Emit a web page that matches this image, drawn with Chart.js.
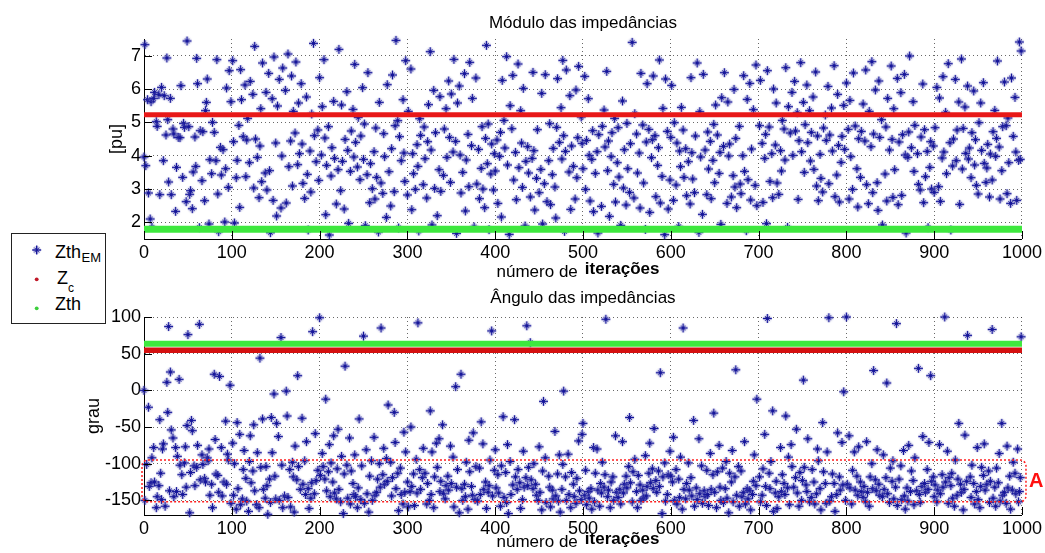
<!DOCTYPE html>
<html>
<head>
<meta charset="utf-8">
<script src="https://cdn.jsdelivr.net/npm/chart.js@4.4.1/dist/chart.umd.min.js"></script>
<style>
  html, body { margin: 0; padding: 0; background: #fff; }
  #wrap { position: relative; width: 1045px; height: 553px; overflow: hidden; }
  #wrap canvas { position: absolute; left: 0; top: 0; }
  #legend { position: absolute; left: 0; top: 0; }
</style>
</head>
<body>
<div id="wrap">
  <canvas id="modulo" width="1045" height="553"></canvas>
  <canvas id="angulo" width="1045" height="553"></canvas>
  <svg id="legend" width="130" height="330" xmlns="http://www.w3.org/2000/svg">
    <rect x="11.5" y="233.5" width="94" height="90" fill="#fff" stroke="#222" stroke-width="1"/>
    <circle cx="36.7" cy="250" r="4" fill="rgba(140,140,200,0.4)"/>
    <g stroke="#16169a">
      <line x1="32.2" y1="250" x2="41.2" y2="250" stroke-width="1.4"/>
      <line x1="36.7" y1="245.5" x2="36.7" y2="254.5" stroke-width="1.4"/>
      <line x1="34.4" y1="247.7" x2="39" y2="252.3" stroke-width="1"/>
      <line x1="34.4" y1="252.3" x2="39" y2="247.7" stroke-width="1"/>
    </g>
    <circle cx="36.7" cy="279.3" r="1.9" fill="#c01828"/>
    <circle cx="36.7" cy="308.3" r="1.9" fill="#3ccf3c"/>
    <g font-family="'Liberation Sans', Arial, sans-serif" fill="#000">
      <text x="55" y="258" font-size="18">Zth</text>
      <text x="81.5" y="262" font-size="13">EM</text>
      <text x="57" y="283.5" font-size="18">Z</text>
      <text x="68" y="292" font-size="12">c</text>
      <text x="55" y="310" font-size="18">Zth</text>
    </g>
  </svg>
</div>
<script>
// Iteration axis and tick labels
const iterTicks = [0, 100, 200, 300, 400, 500, 600, 700, 800, 900, 1000];
const moduloTicks = [2, 3, 4, 5, 6, 7];
const anguloTicks = [-150, -100, -50, 0, 50, 100];

// Reference impedance values (pu and degrees)
const zcModulo = 5.23;
const zthModulo = 1.79;
const zcAngulo = 54.8;
const zthAngulo = 63.5;

// Region "A" limits on the angle plot (degrees)
const regiaoA = [-152, -95];

// Estimated Thevenin impedance modulus per iteration [pu]; null = no mark inside the axes
const zthEmModulo = [
  3.96,7.33,3.70,null,5.68,2.88,null,2.10,5.62,1.85,null,5.72,5.90,null,5.02,4.88,null,5.83,2.83,null,
  6.05,null,3.85,5.80,null,4.62,6.93,5.08,3.21,null,5.72,2.83,null,4.80,4.65,null,2.33,3.65,null,4.55,
  null,4.54,6.10,null,3.35,4.97,4.85,null,2.62,7.44,null,4.87,2.84,2.95,null,2.41,3.51,null,4.56,3.68,
  6.92,6.16,null,1.84,4.75,null,3.25,4.72,null,2.65,5.35,5.60,6.30,null,1.95,3.88,null,3.46,5.00,null,
  4.70,null,3.85,6.88,2.85,1.72,null,4.25,3.42,null,4.18,null,2.01,3.61,6.03,null,3.05,6.55,null,5.62,
  null,6.85,4.42,1.98,null,3.34,3.86,null,4.91,2.45,6.58,5.68,null,4.57,null,6.12,3.37,4.47,5.12,null,
  3.79,6.23,null,null,5.84,3.03,7.28,4.50,null,3.95,null,2.74,4.29,5.41,3.22,6.78,null,null,3.48,5.90,
  2.97,null,6.47,3.55,1.69,null,5.71,2.66,6.96,null,4.38,2.19,5.49,null,6.29,null,2.43,3.99,6.63,null,
  null,5.96,2.58,null,7.05,3.67,null,4.44,6.39,3.09,5.33,null,4.68,6.81,null,3.73,5.58,4.06,null,6.16,
  4.35,3.17,null,2.72,null,5.76,3.44,1.77,null,4.14,2.91,5.25,null,7.37,4.60,null,3.82,null,4.77,3.26,
  6.34,null,4.02,5.47,null,6.88,4.53,2.23,3.71,null,4.87,1.62,null,3.39,4.24,null,5.63,3.92,null,2.55,
  null,3.58,7.19,null,2.95,5.52,3.83,null,2.40,4.49,null,5.92,4.16,1.97,null,3.53,4.74,null,5.39,3.96,
  6.74,4.40,null,3.66,5.15,null,3.28,4.59,null,6.04,3.89,4.95,1.90,null,3.43,6.49,null,2.59,3.76,null,
  3.01,null,4.12,2.70,4.83,3.35,null,1.71,5.60,null,3.18,null,2.87,4.66,3.97,null,2.15,6.13,null,3.52,
  null,2.49,4.21,6.42,null,2.92,4.90,7.46,null,5.05,1.83,4.57,null,3.85,null,5.68,4.08,3.23,6.85,null,
  2.82,5.33,null,null,6.60,2.38,4.06,3.46,null,2.99,null,4.33,3.68,1.74,5.11,4.61,null,null,3.13,4.86,
  3.91,null,2.73,4.42,5.53,null,7.12,4.17,1.92,null,5.96,3.02,4.69,null,2.20,null,3.58,5.77,2.93,null,
  null,3.41,4.80,null,5.41,3.95,null,6.24,4.55,3.20,5.85,null,4.11,6.89,null,4.43,1.67,5.58,null,6.09,
  4.02,2.88,null,3.50,null,6.46,2.34,3.87,null,4.64,3.07,6.80,null,4.30,5.72,null,1.86,null,6.33,3.15,
  null,4.19,2.71,null,3.62,4.87,3.00,null,2.44,4.52,7.31,3.76,4.95,1.78,null,3.45,4.35,null,2.97,4.06,
  3.54,null,4.47,2.57,null,3.98,4.70,2.16,6.26,null,5.06,4.23,null,6.97,3.72,null,1.64,5.50,null,4.81,
  6.41,3.27,null,4.10,2.68,null,6.75,3.64,null,5.35,4.38,3.05,6.02,null,1.89,3.83,null,4.27,3.48,null,
  2.76,null,3.92,6.50,4.15,2.37,null,3.32,4.78,null,2.89,null,3.59,5.87,1.95,null,3.16,6.43,null,2.62,
  null,3.85,4.96,2.53,null,3.43,4.22,null,3.06,2.13,4.85,6.31,null,4.40,null,5.44,3.90,6.86,4.60,1.73,
  4.13,6.57,null,null,3.51,5.80,2.39,4.29,null,3.68,null,2.70,5.97,3.34,4.54,6.68,null,null,5.16,4.37,
  3.61,null,6.38,2.99,4.46,null,5.71,4.01,2.64,null,3.89,4.75,2.32,null,3.47,null,4.12,1.68,4.63,null,
  null,2.48,4.88,null,5.37,4.26,null,6.53,3.55,4.44,2.18,null,3.97,4.69,null,3.14,5.12,2.61,null,3.79,
  4.84,3.36,null,1.91,null,5.64,3.03,4.18,null,2.52,4.97,3.61,null,2.90,4.36,null,7.40,null,2.73,5.26,
  null,4.65,3.48,null,4.08,2.43,6.47,null,4.92,3.18,null,1.79,4.41,6.16,null,4.79,2.30,null,3.94,4.48,
  6.39,null,4.60,2.77,null,3.71,4.24,6.87,2.58,null,3.38,5.42,null,1.63,6.30,null,4.73,2.40,null,3.27,
  4.55,6.11,null,2.66,4.99,null,3.12,4.38,null,1.87,4.14,3.67,5.45,null,4.77,3.35,null,4.21,2.80,null,
  3.82,null,2.55,6.34,4.09,3.30,null,2.89,4.59,null,6.78,null,1.70,5.32,3.96,null,2.24,6.44,null,4.17,
  null,2.83,4.71,3.60,null,4.43,2.71,null,3.86,4.94,3.19,5.52,null,4.62,null,3.47,4.10,1.94,5.74,null,
  4.28,6.49,null,null,2.57,5.61,3.99,4.35,null,2.76,null,3.40,5.99,3.06,4.52,2.44,null,null,4.88,3.15,
  2.86,null,4.00,6.40,3.53,null,1.75,5.69,3.28,null,6.17,2.67,4.20,null,5.38,null,3.11,6.72,2.50,null,
  null,4.90,6.26,null,4.37,2.60,null,3.92,4.64,1.96,6.55,null,4.86,3.23,null,4.06,2.74,6.00,null,4.32,
  5.58,3.18,null,2.84,null,4.15,3.54,5.06,null,4.80,3.87,6.64,null,1.85,5.47,null,4.68,null,5.90,4.01,
  null,6.23,4.74,null,5.29,2.69,4.45,null,6.79,4.12,null,5.60,3.50,4.93,null,6.12,4.39,null,5.35,3.84,
  4.70,null,5.76,3.59,null,6.51,3.09,4.59,2.65,null,4.04,3.32,null,2.91,4.83,null,5.22,4.46,null,6.08,
  3.16,4.62,null,5.43,4.14,null,6.70,2.77,null,3.42,5.84,4.31,2.61,null,3.80,4.58,null,5.51,4.19,null,
  6.18,null,4.79,2.70,5.66,3.97,null,2.99,6.48,null,4.89,null,3.61,2.46,4.51,null,3.35,4.73,null,5.55,
  null,4.44,6.57,3.13,null,2.56,5.33,null,4.27,6.82,2.89,4.65,null,5.97,null,3.19,2.36,6.24,4.55,null,
  5.08,1.92,null,null,3.45,4.86,2.64,5.72,null,4.17,null,6.69,4.49,2.75,5.41,3.58,null,null,6.32,2.53,
  4.41,null,5.89,2.81,4.63,null,6.44,4.02,1.68,null,3.95,4.71,6.99,null,4.24,null,5.62,3.53,4.91,null,
  null,4.06,3.14,null,2.97,4.56,null,6.15,2.59,4.78,3.37,null,4.13,1.84,null,3.65,4.42,3.00,null,4.29,
  2.90,4.84,null,6.05,null,3.07,5.73,2.63,null,3.93,6.37,4.11,null,5.30,3.46,null,6.76,null,4.39,1.77,
  null,3.69,4.50,null,6.29,3.85,4.77,null,5.61,2.54,null,6.90,3.60,4.82,null,5.46,4.07,null,6.09,3.90,
  4.23,null,3.34,4.69,null,5.94,3.72,4.48,3.11,null,2.85,4.99,null,5.58,4.16,null,6.19,3.77,null,3.20,
  3.63,4.34,null,2.76,4.05,null,3.27,4.72,null,5.36,3.98,4.52,6.84,null,4.26,2.70,null,3.55,4.87,null,
  6.21,null,4.90,2.86,5.13,3.79,null,2.57,6.33,null,4.58,null,5.75,4.11,2.66,null,3.86,7.41,3.89,7.14
];

// Estimated Thevenin impedance angle per iteration [degrees]; null = no mark inside the axes
const zthEmAngulo = [
  0,-150,null,-101,null,-23,-131,null,-126,-92,null,-78,-125,null,-160,-145,null,-130,-40,-113,
  -149,-80,-73,null,-158,null,11,-30,87,-137,25,-54,null,-65,-145,null,-78,-138,-90,null,
  15,-102,null,-115,-142,null,-99,-77,-132,-48,76,null,-167,-112,-41,-55,null,-103,-130,null,
  -105,-75,null,90,-122,null,-88,-101,null,-120,-125,null,-92,-96,-80,-143,null,-128,-160,null,
  22,-67,-114,null,-116,-139,19,null,-78,-144,null,-125,null,-42,-128,-87,-95,null,7,-154,
  null,-72,-143,-100,null,-162,-44,-134,null,-60,-156,null,-148,-108,-82,null,-120,-151,null,-165,
  -97,-62,-126,null,-110,-47,-137,null,-156,-85,null,-160,44,-105,null,-39,-135,null,-147,-104,
  -130,-169,null,-121,-153,-37,-85,null,-5,-117,-148,-45,null,-63,-150,null,72,-102,-160,null,
  -144,null,-1,-35,-146,null,-108,-159,null,-98,-118,-166,-76,null,-122,20,-104,null,-135,null,
  -38,-128,null,-96,-142,-70,null,-134,-161,null,-147,-126,80,null,-141,-59,-123,null,-109,null,
  99,-116,null,-86,-104,null,-121,-12,-137,null,-111,-74,-145,-99,null,-125,-62,-140,null,-148,
  -107,-53,-135,null,-152,-90,null,-168,-114,33,null,-102,-147,null,-65,-155,-110,null,-127,-142,
  -88,-145,null,-160,-133,-39,null,-149,-103,null,74,-154,null,-81,-141,null,-166,-117,null,-96,
  -150,null,-64,-143,null,-139,-121,null,-100,-132,85,null,-115,-79,-128,null,-93,-124,-20,null,
  null,-98,-144,-119,null,-30,-71,-134,null,-113,-164,null,-106,-142,null,-155,-57,-139,-84,null,
  -125,-159,null,-138,-50,-131,null,-114,-157,null,-94,-140,92,null,-108,-135,null,-119,-79,null,
  -113,null,-155,-127,null,-150,-28,-142,-84,null,-160,-118,null,-72,-105,null,-66,-138,-124,null,
  -47,-141,null,-148,-130,null,-117,-136,null,-76,-127,null,-91,-159,null,5,-132,-108,null,-167,
  null,22,-134,-150,null,-128,-145,-98,null,-162,-68,-111,null,-131,-143,-58,null,-149,-104,null,
  -151,null,-106,-142,-43,null,-73,-135,null,-125,-161,null,-139,-130,-95,null,81,-144,null,-109,
  -81,-133,null,-115,-140,null,-158,-103,null,-36,-146,null,-112,-153,-74,-168,null,-97,-142,null,
  -129,null,-40,-118,null,-135,-108,null,-126,-161,null,-149,-83,-132,null,-119,88,-130,-105,null,
  65,-122,null,-134,-100,null,-128,-143,null,-150,-77,-139,null,-163,-110,-15,null,-92,-153,null,
  null,-117,-132,-159,null,-136,-148,null,-56,-144,null,-114,-151,-88,-166,null,-135,-101,-1,null,
  -118,-150,null,-87,-142,null,-160,-112,null,-128,-145,null,-154,-120,null,-69,-137,null,-149,-60,
  -45,null,-143,-109,-156,null,-138,-147,null,-134,-162,null,-78,-152,-113,null,-80,-136,null,-158,
  -127,-140,-98,null,-132,-115,97,null,-145,-136,null,-160,-125,null,-118,-150,null,-62,-139,null,
  -146,null,-135,-155,null,-70,-140,-128,null,-117,-133,null,-104,-37,-126,null,-152,-111,null,-94,
  null,-138,-160,-116,null,-129,-150,null,-136,-147,null,-89,-144,-131,null,-113,-72,-126,null,-107,
  -134,-52,null,-123,-139,null,-110,-131,24,null,-168,-118,null,-99,-151,null,-142,-115,null,-83,
  -117,null,-125,-64,-150,null,-108,-155,null,-121,-146,-91,null,-162,85,-135,null,-148,-127,null,
  -99,-136,null,-119,-144,null,-41,-158,null,-133,-149,null,-66,-141,null,-103,-154,null,-137,-145,
  null,-109,-142,-157,null,-86,-135,null,-115,-31,-139,null,-160,-111,null,-75,-132,-150,null,-106,
  -153,null,-134,-97,-147,null,-167,-113,null,-125,-82,-152,null,-118,28,-143,null,-104,-158,null,
  -110,-145,null,-139,-70,-155,null,-134,-148,null,-137,-163,null,-142,-124,-88,null,-130,-12,null,
  null,-118,-152,null,-143,-107,null,-60,-131,-157,98,null,-113,-134,-97,null,-28,-165,null,-140,
  -124,-161,null,-145,null,-78,-138,-115,null,-127,-142,-35,null,-133,-91,-156,null,-74,-104,null,
  -132,null,-119,-53,-140,null,-158,-112,null,-150,-123,14,-105,null,-129,-138,-66,null,-152,null,
  -146,-108,null,-125,-155,null,-141,-80,-96,null,-134,-163,null,-44,-111,null,-127,-154,-84,null,
  99,-151,null,-145,-114,null,-127,-165,null,-142,-58,null,-118,-136,null,-71,-129,-2,null,-150,
  100,-128,null,-62,-133,null,-155,-109,null,-84,-136,null,-117,-143,-77,null,-125,-138,null,-146,
  -131,null,-152,-70,-139,null,-158,-118,null,-100,-134,27,null,-122,-137,-81,null,-128,-143,null,
  null,-145,-88,-135,null,-119,10,-141,null,-153,-106,null,-124,-96,-148,null,-132,91,-157,null,
  -121,null,-103,-149,null,-82,-144,-162,null,-133,-151,-75,null,-138,-110,null,-123,-156,-92,null,
  -137,null,30,-142,-153,null,-131,-63,null,-127,-139,null,-108,-135,-71,null,20,-124,null,-118,
  -145,-129,null,-152,-136,null,-74,-141,null,-115,-132,null,100,-125,null,-83,-154,-119,null,-130,
  -113,-147,null,-158,-95,null,-143,-121,-45,null,-128,-139,null,-163,-135,-61,null,-124,75,null,
  null,-118,-146,-102,null,-127,-155,null,-138,-78,-149,null,-160,-131,-105,null,-116,-73,-136,null,
  -128,null,-110,-153,-124,null,83,-147,null,-132,-158,-106,null,-126,-86,-151,null,-45,-143,null,
  -139,null,-154,-76,-133,null,-117,-162,null,-136,-98,null,-113,-141,null,-80,-152,-138,-119,73
];

const FONT = '"Liberation Sans", Arial, Helvetica, sans-serif';

// '*' marker: long upright arms, shorter diagonals, soft halo
function starMarker() {
  const c = document.createElement('canvas');
  c.width = 13; c.height = 13;
  const g = c.getContext('2d');
  const grad = g.createRadialGradient(6.5, 6.5, 0, 6.5, 6.5, 5.5);
  grad.addColorStop(0, 'rgba(130,130,195,0.55)');
  grad.addColorStop(1, 'rgba(170,170,215,0)');
  g.fillStyle = grad;
  g.fillRect(0, 0, 13, 13);
  g.strokeStyle = '#16169a';
  g.lineWidth = 1.4;
  g.beginPath();
  g.moveTo(2, 6.5); g.lineTo(11, 6.5);
  g.moveTo(6.5, 2); g.lineTo(6.5, 11);
  g.stroke();
  g.lineWidth = 1;
  g.beginPath();
  g.moveTo(4.2, 4.2); g.lineTo(8.8, 8.8);
  g.moveTo(4.2, 8.8); g.lineTo(8.8, 4.2);
  g.stroke();
  return c;
}
const STAR = starMarker();

// Titles, axis labels, inward tick marks and the highlighted region
const axisText = {
  id: 'axisText',
  afterDraw(chart, args, o) {
    const { ctx, chartArea: a, scales } = chart;
    const cx = (a.left + a.right) / 2;
    ctx.save();
    // inward tick marks
    ctx.strokeStyle = '#000';
    ctx.lineWidth = 1;
    ctx.beginPath();
    scales.x.ticks.forEach(t => {
      const px = Math.round(scales.x.getPixelForValue(t.value)) + 0.5;
      ctx.moveTo(px, a.bottom); ctx.lineTo(px, a.bottom - 8);
    });
    scales.y.ticks.forEach(t => {
      const py = Math.round(scales.y.getPixelForValue(t.value)) + 0.5;
      ctx.moveTo(a.left, py); ctx.lineTo(a.left + 8, py);
    });
    ctx.stroke();

    ctx.fillStyle = '#000';
    // title
    ctx.font = '17px ' + FONT;
    ctx.textAlign = 'center';
    ctx.textBaseline = 'alphabetic';
    ctx.fillText(o.title, cx, a.top - o.titleGap);
    // x label: plain words then the bold, slightly raised word
    ctx.textAlign = 'left';
    ctx.font = '17px ' + FONT;
    const w0 = ctx.measureText(o.xLabel[0]).width;
    ctx.font = 'bold 17px ' + FONT;
    const w1 = ctx.measureText(o.xLabel[1]).width;
    const gap = 7;
    const x0 = cx - 5 - (w0 + gap + w1) / 2;
    ctx.font = '17px ' + FONT;
    ctx.fillText(o.xLabel[0], x0, a.bottom + o.xLabelGap);
    ctx.font = 'bold 17px ' + FONT;
    ctx.fillText(o.xLabel[1], x0 + w0 + gap, a.bottom + o.xLabelGap - 3);
    // y label
    ctx.save();
    ctx.translate(o.yLabelX, (a.top + a.bottom) / 2);
    ctx.rotate(-Math.PI / 2);
    ctx.font = '18px ' + FONT;
    ctx.textAlign = 'center';
    ctx.textBaseline = 'middle';
    ctx.fillText(o.yLabel, 0, 0);
    ctx.restore();

    // highlighted region
    if (o.region) {
      const y0 = scales.y.getPixelForValue(o.region[1]);
      const y1 = scales.y.getPixelForValue(o.region[0]);
      const rx0 = a.left - 2, rx1 = a.right + 4;
      ctx.strokeStyle = '#ff1f1f';
      ctx.lineWidth = 1.5;
      ctx.setLineDash([2, 2]);
      ctx.beginPath();
      ctx.roundRect(rx0, y0, rx1 - rx0, y1 - y0, 6);
      ctx.stroke();
      ctx.setLineDash([]);
      ctx.fillStyle = '#ff1010';
      ctx.font = 'bold 20px ' + FONT;
      ctx.textAlign = 'left';
      ctx.textBaseline = 'middle';
      ctx.fillText(o.regionLabel, rx1 + 3, (y0 + y1) / 2 + 1);
    }
    ctx.restore();
  }
};

function toPoints(values) {
  return values.map((v, i) => ({ x: i, y: v }));
}
function flat(value) {
  return [{ x: 0, y: value }, { x: 1000, y: value }];
}

function makeChart(id, cfg) {
  return new Chart(document.getElementById(id), {
    type: 'scatter',
    data: {
      datasets: [
        {
          label: 'ZthEM',
          data: toPoints(cfg.values),
          pointStyle: STAR,
          pointRadius: 5,
          borderColor: '#16169a',
          backgroundColor: '#16169a',
          order: 2,
          clip: 6
        },
        {
          label: 'Zc',
          data: flat(cfg.zc),
          showLine: true,
          borderColor: cfg.zcColor,
          borderWidth: cfg.zcWidth,
          pointRadius: 0,
          order: 1
        },
        {
          label: 'Zth',
          data: flat(cfg.zth),
          showLine: true,
          borderColor: '#3ee83e',
          borderWidth: cfg.zthWidth,
          pointRadius: 0,
          order: 0
        }
      ]
    },
    options: {
      responsive: false,
      animation: false,
      devicePixelRatio: 1,
      layout: { padding: { top: cfg.top, right: 22, left: 0, bottom: 0 } },
      plugins: {
        legend: { display: false },
        tooltip: { enabled: false },
        axisText: cfg.text
      },
      scales: {
        x: {
          type: 'linear',
          min: 0, max: 1000,
          afterBuildTicks: s => { s.ticks = iterTicks.map(v => ({ value: v })); },
          afterFit: s => { s.height = cfg.xHeight; },
          ticks: {
            autoSkip: false, maxRotation: 0, padding: 3,
            color: '#000', font: { family: FONT, size: 18 },
            callback: v => String(v)
          },
          grid: { color: 'rgba(40,40,40,0.7)', lineWidth: 1, drawTicks: false },
          border: { display: true, color: '#000', width: 1, dash: [1, 3] }
        },
        y: {
          type: 'linear',
          min: cfg.yMin, max: cfg.yMax,
          afterBuildTicks: s => { s.ticks = cfg.yTicks.map(v => ({ value: v })); },
          afterFit: s => { s.width = 144; },
          ticks: {
            autoSkip: false, padding: 3,
            color: '#000', font: { family: FONT, size: 18 },
            callback: v => String(v)
          },
          grid: { color: 'rgba(40,40,40,0.7)', lineWidth: 1, drawTicks: false },
          border: { display: true, color: '#000', width: 1, dash: [1, 3] }
        }
      }
    },
    plugins: [axisText]
  });
}

makeChart('modulo', {
  values: zthEmModulo, zc: zcModulo, zth: zthModulo,
  zcColor: '#e81818', zcWidth: 5, zthWidth: 7,
  yMin: 1.5, yMax: 7.5, yTicks: moduloTicks,
  top: 39, xHeight: 553 - 239,
  text: {
    title: 'Módulo das impedâncias', titleGap: 11.5,
    xLabel: ['número de', 'iterações'], xLabelGap: 38,
    yLabel: '[pu]', yLabelX: 117
  }
});

makeChart('angulo', {
  values: zthEmAngulo, zc: zcAngulo, zth: zthAngulo,
  zcColor: '#d41010', zcWidth: 5.5, zthWidth: 6,
  yMin: -170, yMax: 100, yTicks: anguloTicks,
  top: 317, xHeight: 553 - 515,
  text: {
    title: 'Ângulo das impedâncias', titleGap: 14,
    xLabel: ['número de', 'iterações'], xLabelGap: 32,
    yLabel: 'grau', yLabelX: 94,
    region: regiaoA, regionLabel: 'A'
  }
});
</script>
</body>
</html>
